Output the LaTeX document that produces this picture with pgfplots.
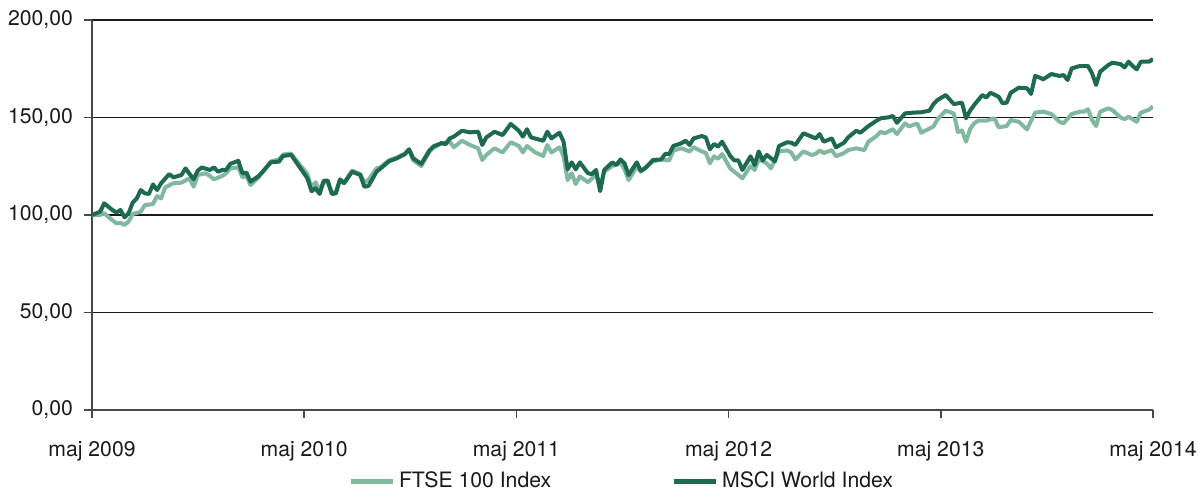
\documentclass[border=0pt]{standalone}
\usepackage{pgfplots}
\pgfplotsset{compat=1.18}
\usepackage{fontspec}
\setmainfont{TeX Gyre Heros}
\definecolor{ftse}{HTML}{80B8A0}
\definecolor{msci}{HTML}{1E6A50}
\definecolor{txt}{HTML}{1A1A1A}
\begin{document}
\begin{tikzpicture}
\path[use as bounding box] (-46pt,-42.5pt) rectangle (553pt,205pt);
\begin{axis}[
    at={(0,0)}, anchor=south west,
    scale only axis,
    width=530.5pt, height=195pt,
    xmin=0, xmax=261,
    ymin=0, ymax=200,
    axis lines=left,
    axis line style={-, line width=0.75pt, color=txt!80},
    xtick={0,52.2,104.4,156.6,208.8,261},
    xticklabels={maj 2009,maj 2010,maj 2011,maj 2012,maj 2013,maj 2014},
    ytick={0,50,100,150,200},
    yticklabels={{0,00},{50,00},{100,00},{150,00},{200,00}},
    tick align=outside,
    major tick length=4pt,
    tick style={line width=0.75pt, color=txt!80},
    ymajorgrids=true,
    grid style={line width=0.75pt, color=txt},
    tick label style={font=\fontsize{10.6}{12}\selectfont, color=txt},
    xticklabel style={yshift=-8pt},
    yticklabel style={xshift=-2pt},
    legend columns=2,
    legend style={at={(0.5,-0.183)}, anchor=center, draw=none,
        font=\fontsize{10.6}{12}\selectfont, text=txt,
        /tikz/every even column/.append style={column sep=58pt}},
    legend image code/.code={\draw[#1, line width=2.5pt] (0pt,0pt) -- (21pt,0pt);},
    every axis plot/.append style={line width=2pt, line join=round},
]
% FTSE 100 Index (week, index)
\addplot[color=ftse] coordinates {
(0,100) (2,100) (3,100.9) (4,99.1) (6,95.7) (7,96) (8,94.9) (9,96.6) (10,100.5)
(12,101.7) (13,105.1) (15,105.6) (16,109.7) (17,108.5) (18,114.2) (20,116.3)
(22,116.6) (24,118.8) (25,114.5) (26,120.5) (28,121.4) (29,120) (30,118.3)
(32,120) (33,121.4) (34,123.9) (36,124.4) (37,119.3) (38,120) (39,115.4)
(41,119.3) (42,122.2) (44,127.5) (46,128.5) (47,131) (49,131.5) (51,126)
(53,121) (54,114) (55,116.8) (56,112) (57,117.2) (58,116.5) (59,111.5)
(60,112) (61,118) (62,116.5) (64,122.8) (66,121) (67,116.8) (68,118)
(70,124) (71,124.5) (73,128) (75,129.5) (77,131.5) (78,133.5) (79,128)
(81,125.1) (83,132.5) (84,134.5) (86,136.8) (88,137.6) (89,134.7) (91,138.1)
(93,135.9) (95,134.2) (96,128.2) (97,130.8) (99,134.2) (101,132.1) (103,137.3)
(105,135.4) (106,132.1) (107,135.4) (109,132.1) (111,130.3) (112,135.9)
(113,132.1) (115,134.7) (116,130.1) (117,117.9) (118,121.4) (119,115.9)
(120,119.8) (122,116.8) (123,118.8) (124,120.5) (125,113.7) (126,122.2)
(128,125.1) (130,127) (131,123.4) (132,117.9) (134,124.8) (135,122.2)
(138,127.5) (140,128.5) (142,128) (143,133.1) (145,134.2) (147,132.6)
(148,134.7) (150,132.6) (151,131.8) (152,126.5) (153,130.1) (154,128.8)
(155,131.3) (157,123.9) (158,122.2) (160,118.8) (162,125.1) (163,123.1)
(164,128.5) (166,126.5) (167,123.9) (169,132.6) (171,133.1) (172,132.1)
(173,128.5) (175,132.6) (177,130.8) (178,131.3) (179,133.1) (180,131.8)
(182,133.3) (183,130.1) (185,131.8) (186,133.3) (188,134.2) (190,133.3)
(191,137.6) (193,140.5) (194,142.7) (195,141.9) (197,144) (198,141.5)
(200,147) (201,145.4) (203,147) (204,142.2) (207,145.4) (208,149.1)
(210,153.5) (212,152.1) (213,142.6) (214,143.4) (215,137.6) (216,144)
(217,147) (218,148.4) (220,148.4) (222,149.6) (223,145) (225,145.6)
(226,148.7) (228,147.8) (230,143.9) (232,152.5) (234,153) (236,151.8)
(238,147.8) (239,147) (241,151.8) (243,153) (244,153) (245,154.2)
(246,148.7) (247,145.6) (248,153) (250,154.7) (251,153.8) (253,150.1)
(254,149.1) (255,150.4) (257,147.8) (258,152.5) (260,154) (261,155.6)
};
% MSCI World Index (week, index)
\addplot[color=msci] coordinates {
(0,100) (2,101.7) (3,106) (5,102.6) (6,101.2) (7,102.6) (8,98.8) (9,100.9)
(10,106.3) (11,108.5) (12,112.8) (13,111.1) (14,110.8) (15,115.7) (16,112.8)
(17,116.3) (19,121) (20,119.3) (22,120.5) (23,123.9) (25,118.3) (26,122.7)
(27,124.4) (29,123.1) (30,124.4) (31,122.2) (32,123.1) (33,123.1) (34,126.2)
(36,127.8) (37,121.4) (38,121.7) (39,117.1) (41,120) (42,122.2) (44,127)
(46,127.4) (47,130.3) (49,130.8) (51,124.8) (53,118.8) (54,112.2) (55,113.7)
(56,110.8) (57,117.6) (58,117.6) (59,110.8) (60,111.1) (61,118.3) (62,116.3)
(64,122.2) (66,120.5) (67,114.5) (68,114.9) (70,122.2) (71,123.9) (73,127.5)
(75,129.1) (77,131.3) (78,133.7) (79,129.1) (81,126.2) (83,133.1) (84,135.2)
(86,136.9) (87,136.3) (88,139.3) (89,140.2) (91,143.2) (93,142.4) (95,142.7)
(96,135.9) (97,139.8) (99,142.7) (101,141) (103,146.7) (105,143.2) (106,140.2)
(107,144) (108,139.8) (111,138.1) (112,142.7) (113,139.3) (115,142.2)
(116,137.6) (117,123.4) (118,127) (119,123.4) (120,127) (122,121.4) (123,121)
(124,123.1) (125,112.2) (126,123.1) (128,127) (129,125.6) (130,128.5)
(131,126.5) (132,120.5) (134,127) (135,122.7) (136,123.9) (138,128.2)
(140,128.5) (141,131.3) (142,131.3) (143,135.4) (145,136.8) (146,138.1)
(147,135.9) (148,139.3) (150,140.5) (151,139.8) (152,133.7) (153,136.4)
(154,135.1) (155,137.6) (157,130.3) (158,128) (159,128) (160,123.1)
(162,130.1) (163,125.6) (164,132.6) (165,128) (166,130.8) (168,127.5)
(169,135.4) (171,137.3) (172,137.1) (173,135.9) (175,141.9) (177,140.2)
(178,139.3) (179,141.5) (180,137.6) (182,139.3) (183,134.7) (185,137.1)
(186,139.8) (188,143.2) (189,142.2) (191,145.6) (193,148.4) (194,149.6)
(196,150.1) (197,150.8) (198,147.3) (200,152.1) (202,152.5) (204,152.7)
(206,153.5) (207,156.9) (208,159) (210,161.5) (212,156.9) (214,157.6)
(215,149.6) (216,153.5) (217,156.4) (219,161.5) (220,160.3) (221,162.7)
(223,160.7) (224,157.3) (225,157.6) (226,162.7) (228,165.3) (230,165)
(231,162.1) (232,171.3) (233,170.6) (234,169.6) (236,172.3) (238,171.3)
(239,171.8) (240,169.2) (241,175.2) (243,176.4) (245,176.4) (246,172.7)
(247,166.7) (248,173.5) (250,176.9) (251,178.1) (253,177.4) (254,175.7)
(255,178.6) (256,176.4) (257,174.7) (258,178.6) (260,178.6) (261,180)
};
\legend{FTSE 100 Index, MSCI World Index}
\end{axis}
\end{tikzpicture}
\end{document}
